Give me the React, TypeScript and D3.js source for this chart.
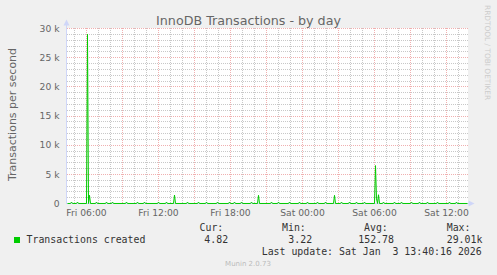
import React from "react";
import * as d3 from "d3";

// ---- data ----
const chartTitle = "InnoDB Transactions - by day";
const yAxisTitle = "Transactions per second";
const seriesName = "Transactions created";
const statLabels = ["Cur:", "Min:", "Avg:", "Max:"];
const statValues = ["4.82", "3.22", "152.78", "29.01k"];
const lastUpdate = "Last update: Sat Jan  3 13:40:16 2026";
const footer = "Munin 2.0.73";
const watermark = "RRDTOOL / TOBI OETIKER";

const timeStart = "2026-01-02T04:25";
const timeEnd = "2026-01-03T13:45";
const yTicks = [0, 5000, 10000, 15000, 20000, 25000, 30000];
const yTickLabels = ["0", "5 k", "10 k", "15 k", "20 k", "25 k", "30 k"];
const baselineValue = 4;

const eventTimes = [
  "2026-01-02T04:45", "2026-01-02T05:15", "2026-01-02T06:05", "2026-01-02T06:15",
  "2026-01-02T06:50", "2026-01-02T07:40", "2026-01-02T08:10", "2026-01-02T09:20",
  "2026-01-02T10:15", "2026-01-02T10:50", "2026-01-02T12:00", "2026-01-02T12:40",
  "2026-01-02T13:20", "2026-01-02T14:25", "2026-01-02T15:20", "2026-01-02T16:00",
  "2026-01-02T16:55", "2026-01-02T17:55", "2026-01-02T18:20", "2026-01-02T18:55",
  "2026-01-02T19:45", "2026-01-02T20:20", "2026-01-02T21:25", "2026-01-02T22:00",
  "2026-01-02T22:55", "2026-01-02T23:45", "2026-01-03T00:25", "2026-01-03T01:15",
  "2026-01-03T01:55", "2026-01-03T02:40", "2026-01-03T03:15", "2026-01-03T03:55",
  "2026-01-03T04:30", "2026-01-03T05:10", "2026-01-03T06:05", "2026-01-03T06:10",
  "2026-01-03T06:20", "2026-01-03T06:45", "2026-01-03T07:40", "2026-01-03T08:15",
  "2026-01-03T09:05", "2026-01-03T09:45", "2026-01-03T10:25", "2026-01-03T11:15",
  "2026-01-03T12:15", "2026-01-03T12:50",
];
const eventValues = [
  250, 250, 29010, 1400,
  250, 250, 250, 250,
  250, 250, 250, 250,
  1450, 250, 250, 250,
  250, 250, 250, 250,
  250, 1400, 250, 250,
  250, 250, 250, 250,
  250, 1400, 250, 250,
  250, 250, 6500, 800,
  1500, 250, 250, 250,
  250, 250, 250, 250,
  250, 250,
];

const parse = d3.timeParse("%Y-%m-%dT%H:%M");
const STEP = 5 * 60 * 1000;

function buildSeries() {
  const map = new Map<number, number>();
  eventTimes.forEach((s, i) => map.set(parse(s)!.getTime(), eventValues[i]));
  const pts = new Map<number, number>();
  const t0 = parse(timeStart)!.getTime();
  const t1 = parse(timeEnd)!.getTime();
  pts.set(t0, baselineValue);
  pts.set(t1, baselineValue);
  map.forEach((v, t) => {
    if (!map.has(t - STEP)) pts.set(t - STEP, baselineValue);
    if (!map.has(t + STEP)) pts.set(t + STEP, baselineValue);
  });
  map.forEach((v, t) => pts.set(t, v));
  return Array.from(pts.entries())
    .sort((a, b) => a[0] - b[0])
    .map(([t, v]) => ({ t: new Date(t), v }));
}

export default function App() {
  const W = 497, H = 275;
  const x0 = 67, x1 = 467, yTop = 28, yBot = 203;
  const x = d3.scaleTime().domain([parse(timeStart)!, parse(timeEnd)!]).range([x0 + 0.5, x1 + 0.5]);
  const y = d3.scaleLinear().domain([0, 30000]).range([yBot + 0.5, yTop + 0.5]);
  const snap = (v: number) => Math.floor(v) + 0.5;

  const series = buildSeries();
  const line = d3.line<{ t: Date; v: number }>().x((d) => x(d.t)).y((d) => y(d.v));

  const hours = d3.timeHour.every(1)!.range(x.domain()[0], x.domain()[1]);
  const minorV = hours.filter((h) => h.getHours() % 3 !== 0);
  const majorV = hours.filter((h) => h.getHours() % 3 === 0);
  const labelV = hours.filter((h) => h.getHours() % 6 === 0);
  const fmt = d3.timeFormat("%a %H:%M");

  const minorH = d3.range(1000, 30001, 1000).filter((v) => v % 5000 !== 0);
  const majorH = yTicks.filter((v) => v > 0);

  const font = "DejaVu Sans, sans-serif";
  const mono = "DejaVu Sans Mono, monospace";
  const fg = "#666666";
  const axisCol = "#CFD6F8";
  const minorCol = "#C8C8C8";
  const majorCol = "#F0B0B0";

  const statX = [199.5, 282, 364, 446.7];
  const valX = [204.3, 288.3, 358.3, 446.7];

  return (
    <svg width={W} height={H} style={{ position: "absolute", left: 0, top: 0, display: "block" }}>
      <rect x={0} y={0} width={W} height={H} fill="#F0F0F0" />
      <rect x={x0} y={yTop} width={x1 - x0 + 1} height={yBot - yTop} fill="#FFFFFF" />
      {minorV.map((h, i) => (
        <line key={"mv" + i} x1={snap(x(h))} x2={snap(x(h))} y1={yTop} y2={yBot} stroke={minorCol} strokeDasharray="1,1" />
      ))}
      {minorH.map((v, i) => (
        <line key={"mh" + i} x1={x0} x2={x1 + 1} y1={snap(y(v))} y2={snap(y(v))} stroke={minorCol} strokeDasharray="1,1" />
      ))}
      {majorV.map((h, i) => (
        <line key={"Mv" + i} x1={snap(x(h))} x2={snap(x(h))} y1={yTop} y2={yBot} stroke={majorCol} strokeDasharray="1,1" />
      ))}
      {majorH.map((v, i) => (
        <line key={"Mh" + i} x1={x0} x2={x1 + 1} y1={snap(y(v))} y2={snap(y(v))} stroke={majorCol} strokeDasharray="1,1" />
      ))}
      {/* axes */}
      <line x1={x0 - 0.5} x2={x0 - 0.5} y1={25} y2={yBot + 1} stroke={axisCol} />
      <path d={`M${x0 - 3.5},25.5 L${x0 + 2.5},25.5 L${x0 - 0.5},19.5 Z`} fill={axisCol} />
      <line x1={x0 - 1} x2={x1 + 2} y1={yBot + 0.5} y2={yBot + 0.5} stroke={axisCol} />
      <path d={`M${x1 + 1.5},${yBot - 2.5} L${x1 + 1.5},${yBot + 3.5} L${x1 + 7.5},${yBot + 0.5} Z`} fill={axisCol} />
      {/* data */}
      <path d={line(series) || ""} fill="none" stroke="#00CC00" strokeWidth={1} />
      {/* y tick labels */}
      {yTicks.map((v, i) => (
        <text key={"yt" + i} x={59.5} y={y(v) + 3.3} textAnchor="end" fontFamily={font} fontSize={9.2} fill={fg}>
          {yTickLabels[i]}
        </text>
      ))}
      {/* x tick labels */}
      {labelV.map((h, i) => (
        <text key={"xt" + i} x={x(h)} y={215.7} textAnchor="middle" fontFamily={font} fontSize={9.2} fill={fg}>
          {fmt(h)}
        </text>
      ))}
      {/* title */}
      <text x={248.5} y={24.5} textAnchor="middle" fontFamily={font} fontSize={12.7} fill={fg}>
        {chartTitle}
      </text>
      <text transform={`translate(15.5,114.5) rotate(-90)`} textAnchor="middle" fontFamily={font} fontSize={11} fill={fg}>
        {yAxisTitle}
      </text>
      <text transform={`translate(485,5) rotate(90)`} textAnchor="start" fontFamily={font} fontSize={7.4} fill="#CCCCCC">
        {watermark}
      </text>
      {/* legend */}
      {statLabels.map((s, i) => (
        <text key={"sl" + i} x={statX[i]} y={231} fontFamily={mono} fontSize={9.9} fill="#333333">
          {s}
        </text>
      ))}
      <rect x={14} y={237} width={6} height={6} fill="#00CC00" />
      <text x={26.5} y={242.7} fontFamily={mono} fontSize={9.9} fill="#333333">
        {seriesName}
      </text>
      {statValues.map((s, i) => (
        <text key={"sv" + i} x={valX[i]} y={242.7} fontFamily={mono} fontSize={9.9} fill="#333333">
          {s}
        </text>
      ))}
      <text x={261.7} y={255} fontFamily={mono} fontSize={9.9} fill="#333333" style={{ whiteSpace: "pre" }}>
        {lastUpdate}
      </text>
      <text x={248} y={266} textAnchor="middle" fontFamily={font} fontSize={7} fill="#BBBBBB">
        {footer}
      </text>
    </svg>
  );
}
